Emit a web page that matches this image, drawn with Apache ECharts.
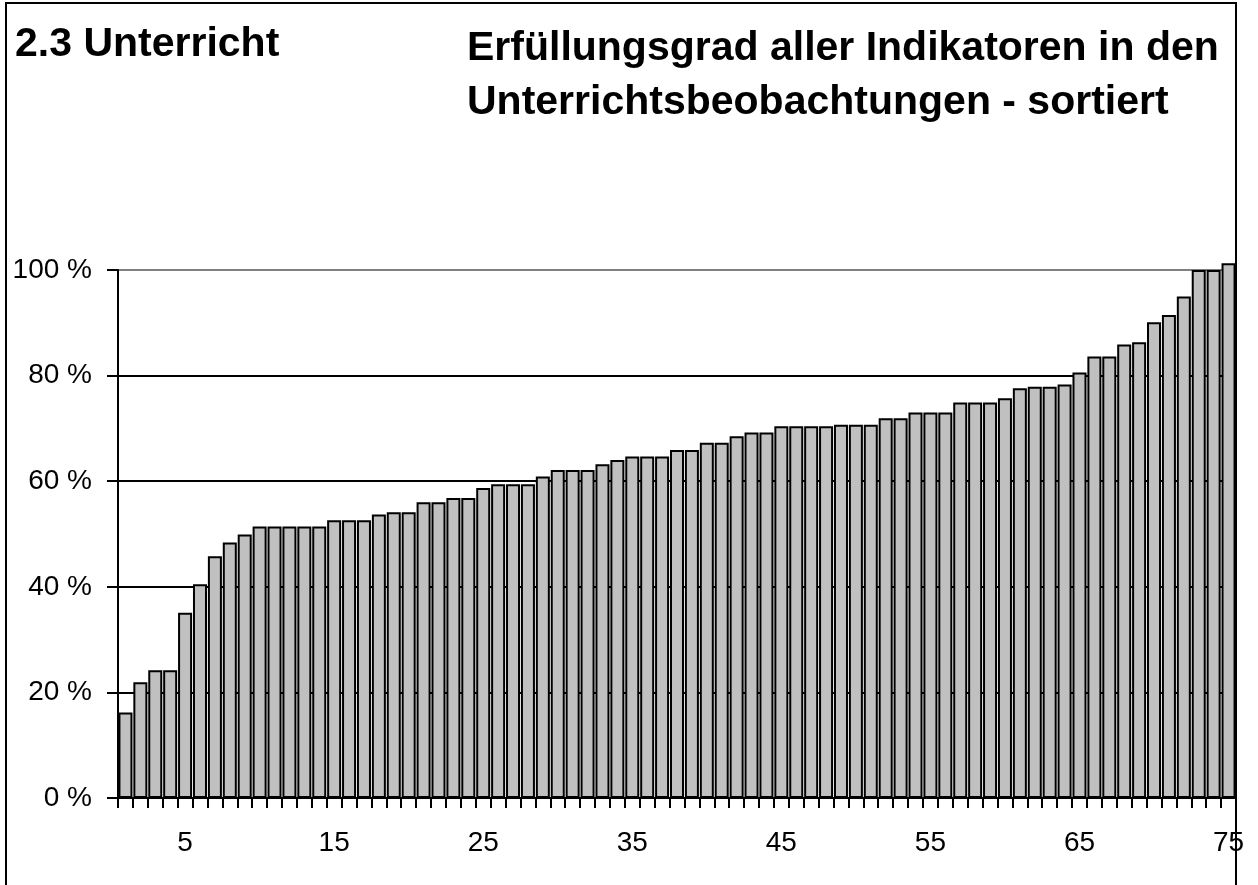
<!DOCTYPE html>
<html>
<head>
<meta charset="utf-8">
<script src="https://cdn.jsdelivr.net/npm/echarts@6/dist/echarts.min.js"></script>
<style>
  html, body { margin: 0; padding: 0; background: #fff; }
  #chart { width: 1258px; height: 885px; }
</style>
</head>
<body>
<div id="chart"></div>
<script>
// observation number (sorted) and fulfilment in percent
const categories = [];
for (let i = 1; i <= 75; i++) categories.push(String(i));

const values = [
  16.2, 21.9, 24.2, 24.2, 35.1, 40.5, 45.8, 48.4, 49.9, 51.4,
  51.4, 51.4, 51.4, 51.4, 52.6, 52.6, 52.6, 53.7, 54.1, 54.1,
  56.0, 56.0, 56.8, 56.8, 58.7, 59.4, 59.4, 59.4, 60.9, 62.1,
  62.1, 62.1, 63.2, 64.0, 64.7, 64.7, 64.7, 65.9, 65.9, 67.3,
  67.3, 68.5, 69.2, 69.2, 70.4, 70.4, 70.4, 70.4, 70.7, 70.7,
  70.7, 71.9, 71.9, 73.0, 73.0, 73.0, 74.9, 74.9, 74.9, 75.7,
  77.6, 77.9, 77.9, 78.3, 80.6, 83.6, 83.6, 85.9, 86.3, 90.1,
  91.5, 95.0, 100, 100, 101.3
];

const yTicks = [0, 20, 40, 60, 80, 100];

const chart = echarts.init(document.getElementById('chart'));
const font = 'Liberation Sans, Arial, sans-serif';

chart.setOption({
  animation: false,
  backgroundColor: '#fff',
  title: [
    {
      text: '2.3 Unterricht',
      left: 15,
      top: 18,
      padding: 0,
      textStyle: { fontFamily: font, fontSize: 41, fontWeight: 'bold', color: '#000', lineHeight: 54 }
    },
    {
      text: 'Erfüllungsgrad aller Indikatoren in den\nUnterrichtsbeobachtungen - sortiert',
      left: 467,
      top: 22,
      padding: 0,
      textStyle: { fontFamily: font, fontSize: 41, fontWeight: 'bold', color: '#000', lineHeight: 54 }
    }
  ],
  grid: {
    left: 118,
    right: 22,
    top: 270,
    bottom: 87,
    containLabel: false
  },
  xAxis: {
    type: 'category',
    data: categories,
    boundaryGap: true,
    axisLine: { show: true, lineStyle: { color: '#000', width: 2 } },
    axisTick: {
      show: true,
      interval: 0,
      length: 10,
      lineStyle: { color: '#000', width: 2 }
    },
    axisLabel: {
      interval: function (index) { return (index + 1) % 10 === 5; },
      margin: 31,
      color: '#000',
      fontFamily: font,
      fontSize: 28
    },
    splitLine: { show: false }
  },
  yAxis: {
    type: 'value',
    min: 0,
    max: 100,
    interval: 20,
    axisLine: { show: true, lineStyle: { color: '#000', width: 2 } },
    axisTick: { show: true, length: 11, lineStyle: { color: '#000', width: 2 } },
    axisLabel: {
      margin: 26,
      color: '#000',
      fontFamily: font,
      fontSize: 28,
      formatter: function (v) { return yTicks.indexOf(v) >= 0 ? v + ' %' : ''; }
    },
    splitLine: {
      show: true,
      lineStyle: { color: ['#000', '#000', '#000', '#000', '#000', '#808080'], width: 2 }
    }
  },
  series: [{
    type: 'bar',
    data: values,
    barCategoryGap: '6%',
    clip: false,
    itemStyle: { color: '#C0C0C0', borderColor: '#000', borderWidth: 2 }
  }],
  graphic: [{
    type: 'polyline',
    z: 100,
    shape: { points: [[6, 900], [6, 3], [1236, 3], [1236, 900]] },
    style: { fill: null, stroke: '#000', lineWidth: 2 }
  }]
});
</script>
</body>
</html>
